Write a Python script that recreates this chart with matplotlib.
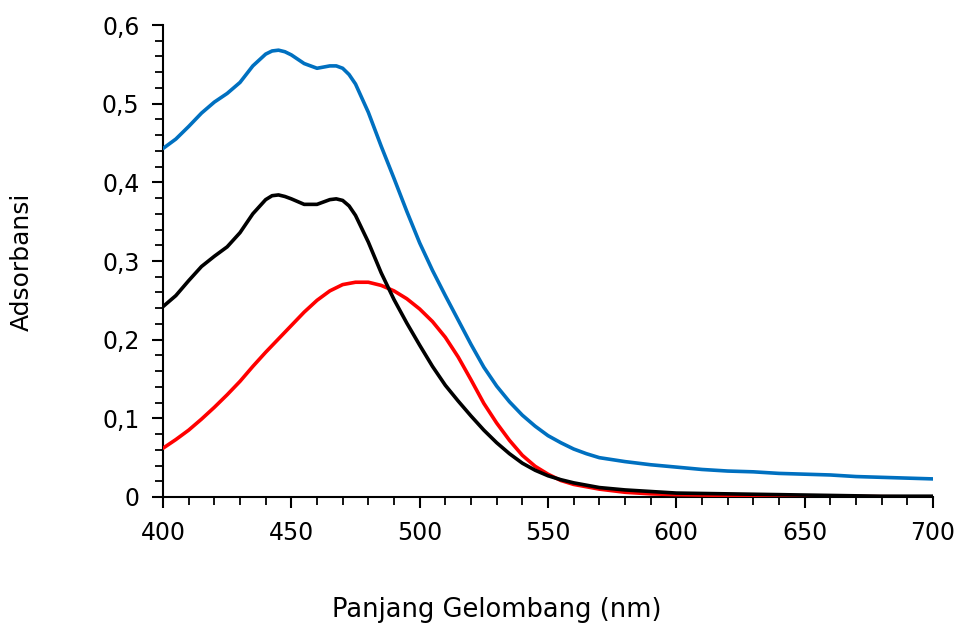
import matplotlib
matplotlib.use("Agg")
import matplotlib.pyplot as plt
from matplotlib.ticker import MultipleLocator, FuncFormatter

# wavelengths (nm) and absorbance values
wl_blue = [400, 405, 410, 415, 420, 425, 430, 435, 440, 442.5, 445, 447.5, 450, 455, 460,
           465, 467.5, 470, 472.5, 475, 480, 485, 490, 495, 500, 505, 510, 515, 520, 525,
           530, 535, 540, 545, 550, 555, 560, 565, 570, 580, 590, 600, 610, 620, 630, 640,
           650, 660, 670, 680, 690, 700]
abs_blue = [0.443, 0.455, 0.471, 0.488, 0.502, 0.513, 0.527, 0.548, 0.563, 0.567, 0.568,
            0.566, 0.562, 0.551, 0.545, 0.548, 0.548, 0.545, 0.537, 0.525, 0.489, 0.446,
            0.405, 0.363, 0.323, 0.288, 0.256, 0.225, 0.194, 0.165, 0.141, 0.121, 0.104,
            0.090, 0.078, 0.069, 0.061, 0.055, 0.050, 0.045, 0.041, 0.038, 0.035, 0.033,
            0.032, 0.030, 0.029, 0.028, 0.026, 0.025, 0.024, 0.023]

wl_black = [400, 405, 410, 415, 420, 425, 430, 435, 440, 442.5, 445, 447.5, 450, 455, 460,
            465, 467.5, 470, 472.5, 475, 480, 485, 490, 495, 500, 505, 510, 515, 520, 525,
            530, 535, 540, 545, 550, 555, 560, 565, 570, 580, 590, 600, 620, 640, 660, 680,
            700]
abs_black = [0.242, 0.256, 0.275, 0.293, 0.306, 0.318, 0.336, 0.360, 0.378, 0.383, 0.384,
             0.382, 0.379, 0.372, 0.372, 0.378, 0.379, 0.377, 0.370, 0.358, 0.324, 0.285,
             0.251, 0.221, 0.193, 0.166, 0.142, 0.122, 0.103, 0.085, 0.069, 0.055, 0.043,
             0.034, 0.027, 0.022, 0.018, 0.015, 0.012, 0.009, 0.007, 0.005, 0.004, 0.003,
             0.002, 0.001, 0.001]

wl_red = [400, 405, 410, 415, 420, 425, 430, 435, 440, 445, 450, 455, 460, 465, 470,
          475, 480, 485, 490, 495, 500, 505, 510, 515, 520, 525, 530, 535, 540, 545,
          550, 555, 560, 570, 580, 590, 600, 620, 650, 700]
abs_red = [0.062, 0.073, 0.085, 0.099, 0.114, 0.130, 0.147, 0.166, 0.184, 0.201, 0.218,
           0.235, 0.250, 0.262, 0.270, 0.273, 0.273, 0.269, 0.262, 0.252, 0.239, 0.223,
           0.203, 0.178, 0.149, 0.119, 0.094, 0.072, 0.053, 0.039, 0.029, 0.021, 0.016,
           0.010, 0.006, 0.004, 0.003, 0.002, 0.001, 0.000]

x_ticks = [400, 450, 500, 550, 600, 650, 700]
y_ticks = [0, 0.1, 0.2, 0.3, 0.4, 0.5, 0.6]

plt.rcParams['font.family'] = ['DejaVu Sans']

fig = plt.figure(figsize=(9.56, 6.28), dpi=100)
ax = fig.add_axes([163/956, 1-497/628, (933-163)/956, (497-25)/628])

kw = dict(lw=2.6, solid_capstyle='round', solid_joinstyle='round')
ax.plot(wl_red, abs_red, color='#FF0000', zorder=3, **kw)
ax.plot(wl_black, abs_black, color='#000000', zorder=4, **kw)
ax.plot(wl_blue, abs_blue, color='#0070C0', zorder=5, **kw)

ax.set_xlim(400, 700)
ax.set_ylim(0, 0.6)
ax.set_xticks(x_ticks)
ax.set_yticks(y_ticks)
ax.xaxis.set_minor_locator(MultipleLocator(10))
ax.yaxis.set_minor_locator(MultipleLocator(0.02))

def fmt(v, pos):
    if abs(v) < 1e-9:
        return '0'
    return ('%.1f' % v).replace('.', ',')

ax.yaxis.set_major_formatter(FuncFormatter(fmt))

for s in ['top', 'right']:
    ax.spines[s].set_visible(False)
for s in ['left', 'bottom']:
    ax.spines[s].set_linewidth(1.5)
    ax.spines[s].set_color('black')

ax.tick_params(axis='both', which='major', direction='out', length=8, width=1.5,
               labelsize=17, colors='black')
ax.tick_params(axis='both', which='minor', direction='out', length=5.5, width=1.3)
ax.tick_params(axis='y', which='major', pad=9)
ax.tick_params(axis='x', which='major', pad=9.5)

fig.text(22/956, 1-262/628, 'Adsorbansi', rotation=90, ha='center', va='center',
         fontsize=18)
fig.text(497/956, 1-610/628, 'Panjang Gelombang (nm)', ha='center', va='center',
         fontsize=18.5)

fig.savefig('out.png', dpi=100, facecolor='white')
